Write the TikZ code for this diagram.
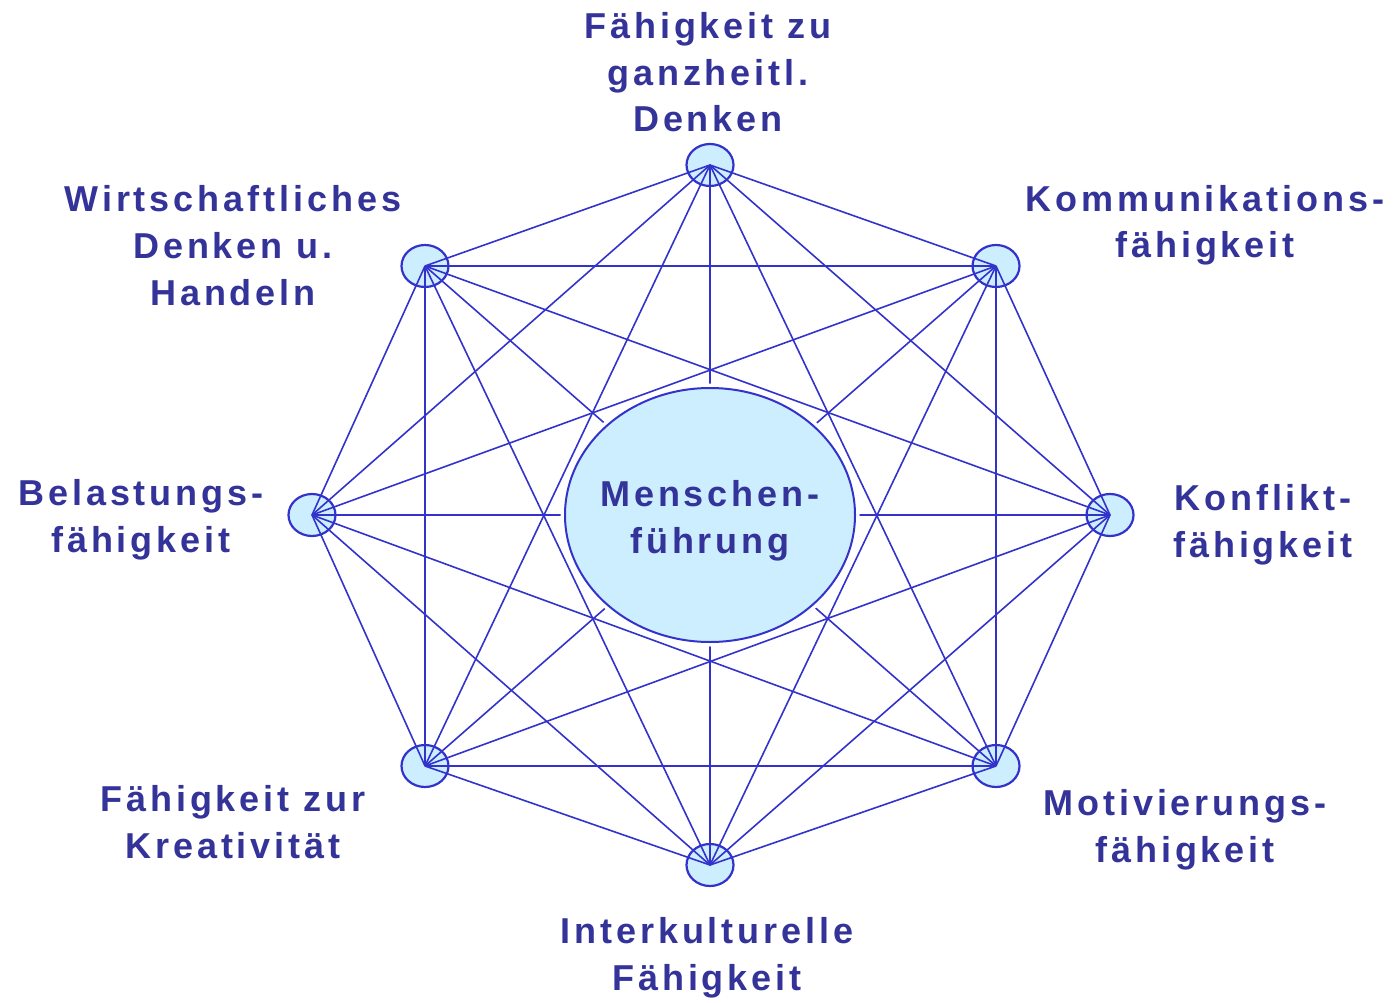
\documentclass[tikz,border=0pt]{standalone}
\usepackage{fontspec}
\setmainfont{Liberation Sans}
\usetikzlibrary{shapes.geometric}
\definecolor{txtblue}{HTML}{333399}
\definecolor{lineblue}{HTML}{3333CC}
\definecolor{fillblue}{HTML}{CCEEFF}
\begin{document}
\begin{tikzpicture}[x=1pt,y=-1pt,
  small/.style={ellipse, draw=lineblue, fill=fillblue, line width=2.2pt, minimum width=47pt, minimum height=42pt, inner sep=0pt},
  edge/.style={draw=lineblue, line width=1.6pt},
  lbl/.style={text=txtblue, align=center, anchor=base, inner sep=0pt,
    font=\fontsize{36}{46.5}\selectfont\bfseries\addfontfeature{LetterSpace=11}}
]
\useasboundingbox (0,0) rectangle (1395,1003);
\node[small] (a1) at (710,165) {};
\node[small] (a2) at (996,266) {};
\node[small] (a3) at (1110,515) {};
\node[small] (a4) at (996,766) {};
\node[small] (a5) at (710,865) {};
\node[small] (a6) at (425,766) {};
\node[small] (a7) at (312,515) {};
\node[small] (a8) at (425,266) {};
\foreach \i in {1,...,8}{
  \foreach \j in {1,...,8}{
    \ifnum\i<\j
      \draw[edge] (a\i.center) -- (a\j.center);
    \fi
  }
}
\node[ellipse, fill=white, minimum width=299pt, minimum height=263pt, inner sep=0pt] (halo) at (710,515) {};
\node[ellipse, draw=lineblue, fill=fillblue, line width=2pt, minimum width=290pt, minimum height=254pt, inner sep=0pt] (c) at (710,515) {};
\node[lbl] (tc) at (710,553) {Menschen-\\führung};
\node[lbl] (t1) at (708,132) {Fähigkeit zu\\ganzheitl.\\Denken};
\node[lbl] (t2) at (1205,258) {Kommunikations-\\fähigkeit};
\node[lbl] (t3) at (1263,557) {Konflikt-\\fähigkeit};
\node[lbl] (t4) at (1185,862) {Motivierungs-\\fähigkeit};
\node[lbl] (t5) at (707,990) {Interkulturelle\\Fähigkeit};
\node[lbl] (t6) at (233,858) {Fähigkeit zur\\Kreativität};
\node[lbl] (t7) at (141,552) {Belastungs-\\fähigkeit};
\node[lbl] (t8) at (233,305) {Wirtschaftliches\\Denken u.\\Handeln};
\end{tikzpicture}
\end{document}
